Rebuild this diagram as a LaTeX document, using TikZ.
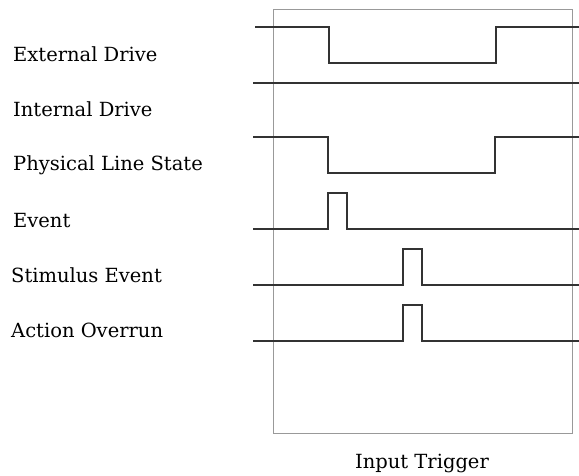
\documentclass[tikz,border=0pt]{standalone}
\usepackage{fontspec}
\setmainfont{DejaVu Serif}
\begin{document}
\begin{tikzpicture}[x=1pt,y=-1pt,
  sig/.style={draw=black!80,line width=1.4pt,line join=miter},
  frame/.style={draw=black!40,line width=1pt},
  lab/.style={anchor=base west,inner sep=0pt,font=\fontsize{19.5}{23}\selectfont}]
\useasboundingbox[fill=white] (0,0) rectangle (579,476);
\draw[frame] (273,10) rectangle (572,433);
% External Drive
\draw[sig] (255,27) -- (329,27) -- (329,63) -- (496,63) -- (496,27) -- (579,27);
% Internal Drive
\draw[sig] (253,83) -- (579,83);
% Physical Line State
\draw[sig] (253,137) -- (328,137) -- (328,173) -- (495,173) -- (495,137) -- (579,137);
% Event
\draw[sig] (253,229) -- (328,229) -- (328,193) -- (347,193) -- (347,229) -- (579,229);
% Stimulus Event
\draw[sig] (253,285) -- (403,285) -- (403,249) -- (422,249) -- (422,285) -- (579,285);
% Action Overrun
\draw[sig] (253,341) -- (403,341) -- (403,305) -- (422,305) -- (422,341) -- (579,341);
\node[lab] (ext) at (13,62) {External Drive};
\node[lab] (int) at (13,117) {Internal Drive};
\node[lab] (phy) at (13,171) {Physical Line State};
\node[lab] (evt) at (13,228) {Event};
\node[lab] (stim) at (11,282) {Stimulus Event};
\node[lab] (act) at (11,337) {Action Overrun};
\node[lab,anchor=base] (trig) at (422,468) {Input Trigger};
\end{tikzpicture}
\end{document}
